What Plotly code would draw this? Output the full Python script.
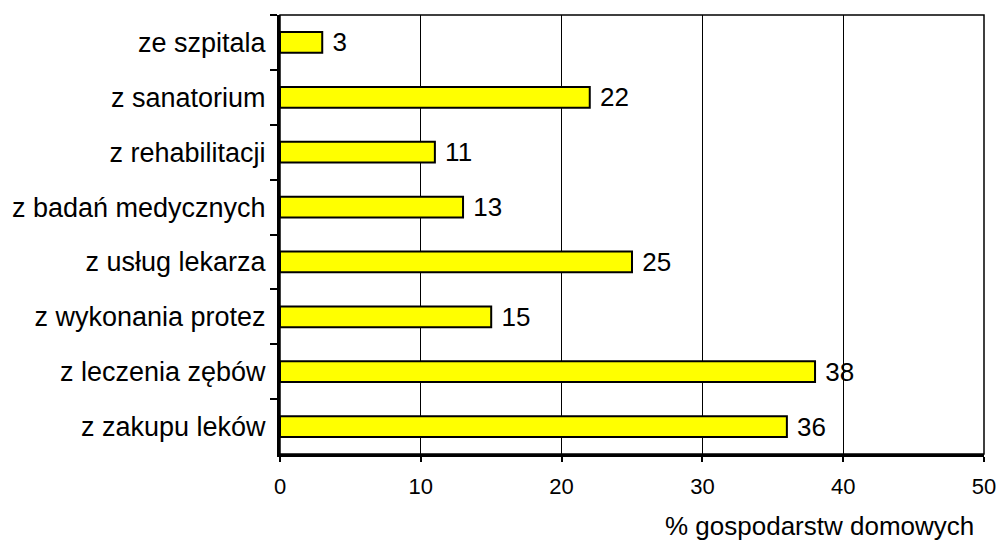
import plotly.graph_objects as go

# Share of households, by kind of medical expense
categories = [
    "ze szpitala",
    "z sanatorium",
    "z rehabilitacji",
    "z badań medycznych",
    "z usług lekarza",
    "z wykonania protez",
    "z leczenia zębów",
    "z zakupu leków",
]
values = [3, 22, 11, 13, 25, 15, 38, 36]
x_ticks = [0, 10, 20, 30, 40, 50]
x_title = "% gospodarstw domowych"

FONT = "Liberation Sans, Arial, sans-serif"

fig = go.Figure(
    go.Bar(
        x=values,
        y=categories,
        orientation="h",
        width=0.38,
        marker=dict(color="#FFFF00", line=dict(color="black", width=2)),
        text=[str(v) for v in values],
        texttemplate=" %{text}",
        textposition="outside",
        constraintext="none",
        textfont=dict(family=FONT, size=26, color="black"),
        cliponaxis=False,
    )
)

fig.update_layout(
    width=997,
    height=542,
    margin=dict(l=280, r=13, t=15, b=88),
    paper_bgcolor="white",
    plot_bgcolor="white",
    showlegend=False,
    font=dict(family=FONT, size=26, color="black"),
    uniformtext=dict(mode=False),
    shapes=[
        dict(
            type="rect", xref="paper", yref="paper",
            x0=0, x1=1, y0=0, y1=1,
            line=dict(color="black", width=1.5), layer="below",
        )
    ],
    annotations=[
        dict(
            text=x_title, xref="paper", yref="paper",
            x=0.988, y=-0.165, xanchor="right", yanchor="middle",
            showarrow=False, font=dict(family=FONT, size=26, color="black"),
        )
    ],
)

fig.update_xaxes(
    range=[0, 50],
    tickvals=x_ticks,
    ticktext=[str(t) for t in x_ticks],
    showgrid=True,
    gridcolor="black",
    gridwidth=1,
    zeroline=False,
    showline=True,
    linecolor="black",
    linewidth=3,
    ticks="outside",
    ticklen=5,
    tickwidth=2,
    tickcolor="black",
    tickfont=dict(family=FONT, size=22),
    ticklabelstandoff=6,
    automargin=False,
)

fig.update_yaxes(
    autorange="reversed",
    showgrid=False,
    showline=True,
    linecolor="black",
    linewidth=3,
    ticks="outside",
    tickson="boundaries",
    ticklen=7,
    tickwidth=2,
    tickcolor="black",
    tickfont=dict(family=FONT, size=27),
    ticklabelstandoff=6,
    automargin=False,
)

fig.write_html("out.html")
